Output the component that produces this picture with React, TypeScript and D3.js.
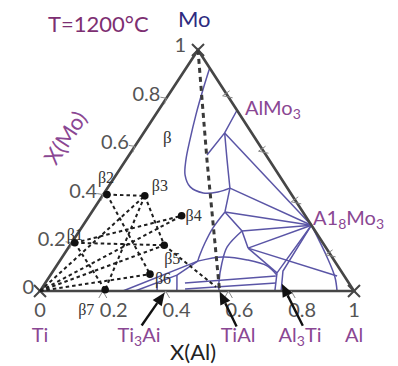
import React from 'react';
import * as d3 from 'd3';

type Comp = [number, number]; // [X(Al), X(Mo)]

// axis ticks / labels
const AXIS_TICKS = [0.2, 0.4, 0.6, 0.8];
const AXIS_LABELS = [0, 0.2, 0.4, 0.6, 0.8, 1];
const RIGHT_EDGE_TICKS = [0.81, 0.58, 0.37, 0.15]; // X(Mo) of the small marks on the Mo-Al side

// phase nodes
const AL_MO3: Comp = [0.25, 0.75];
const AL8_MO3: Comp = [0.727, 0.273];
const nA: Comp = [0.258, 0.656];
const nB: Comp = [0.248, 0.564];
const nC: Comp = [0.39, 0.427];
const nD: Comp = [0.424, 0.328];
const nE: Comp = [0.518, 0.249];
const nF: Comp = [0.573, 0.178];
const nG: Comp = [0.44, 0.124];
const nH: Comp = [0.403, 0.066];

// curved phase boundaries
const betaBoundary: Comp[] = [
  [0.075, 0.925], [0.099, 0.834], [0.129, 0.73], [0.162, 0.627], [0.191, 0.544],
  [0.22, 0.481], [0.261, 0.432], [0.315, 0.407], [0.36, 0.411], nC,
];
const curveAC: Comp[] = [nA, [0.322, 0.544], nC];
const curveDG: Comp[] = [nD, [0.419, 0.261], [0.425, 0.199], [0.434, 0.149], nG];
const curveE: Comp[] = [nE, [0.504, 0.183], [0.521, 0.116], [0.553, 0.033], [0.57, 0]];
const arcG: Comp[] = [nG, [0.512, 0.141], [0.595, 0.129], [0.671, 0.104], [0.721, 0.066]];
const alSide: Comp[] = [AL8_MO3, [0.843, 0.141], [0.91, 0.058], [0.946, 0]];
const curvedLines = [betaBoundary, curveAC, curveDG, curveE, arcG, alSide];

// straight tie lines / boundaries
const straightLines: Comp[][] = [
  [AL_MO3, nA, nB],
  [nA, AL8_MO3],
  [nC, AL8_MO3],
  [nC, nD],
  [nD, AL8_MO3],
  [nD, nE, nF],
  [nE, AL8_MO3],
  [nF, AL8_MO3],
  [nF, [0.915, 0.062]],
  [nF, [0.717, 0.075]],
  [AL8_MO3, [0.717, 0.075], [0.748, 0]],
  [AL8_MO3, [0.732, 0.083], [0.768, 0]],
  [nG, [0.264, 0]],
  [nG, nH],
  [nH, [0.303, 0]],
  [nH, [0.436, 0]],
  [[0.354, 0.037], [0.373, 0]],
  [[0.445, 0.033], [0.72, 0.062]],
  [[0.458, 0.008], [0.735, 0.033]],
];

// diffusion couples (beta compositions)
const betaNames = ['β1', 'β2', 'β3', 'β4', 'β5', 'β6', 'β7'];
const betaComps: Comp[] = [
  [0.01, 0.2], [0.012, 0.4], [0.135, 0.395], [0.294, 0.312],
  [0.3, 0.19], [0.315, 0.07], [0.205, 0.005],
];
const betaLabelOffsets: [number, number][] = [
  [-8, -3], [-9, -12], [7, -5], [4, 5], [0, 19], [5, 10], [-27, 25],
];
const TI: Comp = [0, 0];
const [b1, b2, b3, b4, b5, b6, b7] = betaComps;
const dashedPaths: Comp[][] = [
  [b2, b3], [b3, b5], [b2, b6], [b3, b7], [b1, b4], [b1, b7], [b1, b5],
  [TI, b3], [TI, b4], [TI, b5], [TI, b6], [b5, [0.552, 0.017]],
];
const moDashed: Comp[] = [[0, 1], [0.258, 0.544], [0.565, 0.012]];

// arrows: label, tip composition
const arrowLabels = ['Ti₃Ai', 'TiAl', 'Al₃Ti'];
const arrowTips: Comp[] = [[0.4, -0.006], [0.573, -0.002], [0.755, 0.03]];

const W = 398, H = 366;
const TI_X = 40, AL_X = 354, MO_X = 198, BASE_Y = 291, TOP_Y = 50;

const sA = d3.scaleLinear().domain([0, 1]).range([TI_X, AL_X]);
const sM = d3.scaleLinear().domain([0, 1]).range([BASE_Y, TOP_Y]);
const skew = d3.scaleLinear().domain([0, 1]).range([0, MO_X - TI_X]);
const proj = ([a, m]: Comp): [number, number] => [sA(a) + skew(m), sM(m)];

const lineStraight = d3.line<Comp>().x(d => proj(d)[0]).y(d => proj(d)[1]);
const lineSmooth = d3.line<Comp>().x(d => proj(d)[0]).y(d => proj(d)[1]).curve(d3.curveCatmullRom.alpha(0.5));

const FONT = "Lato, 'Open Sans', sans-serif";
const SERIF = "'Liberation Serif', 'DejaVu Serif', serif";
const PHASE = '#5a55a6';
const PURPLE = '#8a4793';
const AXIS = '#464646';

const cross = (p: [number, number], r = 6) =>
  `M${p[0] - r},${p[1] - r}L${p[0] + r},${p[1] + r}M${p[0] - r},${p[1] + r}L${p[0] + r},${p[1] - r}`;

const arrow = (tip: [number, number], dx: number, dy: number) => {
  const len = Math.hypot(dx, dy);
  const ux = -dx / len, uy = -dy / len; // direction tail -> tip
  const hl = 13, hw = 5.5;
  const bx = tip[0] - ux * hl, by = tip[1] - uy * hl;
  const head = `M${tip[0]},${tip[1]}L${bx - uy * hw},${by + ux * hw}L${bx + uy * hw},${by - ux * hw}Z`;
  const shaft = `M${tip[0] + dx},${tip[1] + dy}L${bx},${by}`;
  return { head, shaft };
};
const arrowTails: [number, number][] = [[-23, 33], [17, 35], [21, 42]];
const arrowLabelX = [139, 238, 300];

export default function App() {
  const ti = proj([0, 0]), al = proj([1, 0]), mo = proj([0, 1]);

  return (
    <svg width={W} height={H} style={{ position: 'absolute', left: 0, top: 0, background: '#fff' }}>
      {/* title */}
      <text x={48} y={32} fontFamily={FONT} fontSize={22} fill="#7d2f72">T=1200°C</text>
      <text x={178} y={27} fontFamily={FONT} fontSize={22} fill="#2e2b7f">Mo</text>

      {/* phase boundaries */}
      <g fill="none" stroke={PHASE} strokeWidth={1.5}>
        {curvedLines.map((d, i) => <path key={'c' + i} d={lineSmooth(d) ?? ''} />)}
        {straightLines.map((d, i) => <path key={'s' + i} d={lineStraight(d) ?? ''} />)}
      </g>

      {/* triangle */}
      <path d={`M${ti[0]},${ti[1]}L${mo[0]},${mo[1]}L${al[0]},${al[1]}Z`} fill="none" stroke={AXIS} strokeWidth={2.6} />
      <g stroke={AXIS} strokeWidth={2}>
        <path d={cross(ti)} />
        <path d={cross(al)} />
        <path d={cross(mo)} />
      </g>

      {/* small tick marks */}
      <g fill="none" stroke="#888" strokeWidth={1}>
        {AXIS_TICKS.map(v => {
          const p = proj([v, 0]);
          return <path key={'bt' + v} d={`M${p[0] - 4},${p[1] + 7}L${p[0]},${p[1]}L${p[0] + 4},${p[1] + 7}`} />;
        })}
        {AXIS_TICKS.map(v => {
          const p = proj([0, v]);
          return <path key={'lt' + v} d={`M${p[0] - 6},${p[1] - 1}L${p[0]},${p[1]}L${p[0] - 2},${p[1] + 6}`} />;
        })}
        {RIGHT_EDGE_TICKS.map(v => {
          const p = proj([1 - v, v]);
          return <path key={'rt' + v} d={`M${p[0] + 2},${p[1] - 5}L${p[0] - 5},${p[1]}L${p[0] + 5},${p[1] + 2}`} />;
        })}
      </g>

      {/* Mo-TiAl dashed line */}
      <path d={lineStraight(moDashed) ?? ''} fill="none" stroke="#3a3a3a" strokeWidth={3} strokeDasharray="5 4" />

      {/* diffusion paths */}
      <g fill="none" stroke="#1e1e1e" strokeWidth={2} strokeDasharray="3.5 3">
        {dashedPaths.map((d, i) => <path key={'d' + i} d={lineStraight(d) ?? ''} />)}
      </g>
      {betaComps.map((c, i) => {
        const p = proj(c);
        return (
          <g key={betaNames[i]}>
            <circle cx={p[0]} cy={p[1]} r={3.8} fill="#111" />
            <text x={p[0] + betaLabelOffsets[i][0]} y={p[1] + betaLabelOffsets[i][1]}
              fontFamily={SERIF} fontSize={16} fill="#333">{betaNames[i]}</text>
          </g>
        );
      })}
      <text x={163} y={143} fontFamily={SERIF} fontSize={17} fill="#333">β</text>

      {/* left axis labels */}
      <g fontFamily={FONT} fontSize={20} fill="#555" textAnchor="end">
        {AXIS_LABELS.slice(0, 5).map(v => {
          const p = proj([0, v]);
          return <text key={'ll' + v} x={p[0] - 6} y={p[1] + 3}>{String(v)}</text>;
        })}
        <text x={186} y={52}>1</text>
      </g>
      {/* bottom axis labels */}
      <g fontFamily={FONT} fontSize={20} fill="#555">
        {AXIS_LABELS.map(v => {
          const p = proj([v, 0]);
          const edge = v === 0 || v === 1;
          return (
            <text key={'bl' + v} x={edge ? p[0] : p[0] - 3} y={317} textAnchor={edge ? 'middle' : 'start'}>
              {String(v)}
            </text>
          );
        })}
      </g>

      {/* axis titles */}
      <text transform="translate(72,142) rotate(-56.7)" textAnchor="middle" fontFamily={FONT} fontSize={22} fill={PURPLE}>X(Mo)</text>
      <text x={170} y={360} fontFamily={FONT} fontSize={22} fill="#222">X(Al)</text>

      {/* phase labels */}
      <g fontFamily={FONT} fontSize={20} fill={PURPLE}>
        <text x={245} y={115}>AlMo<tspan fontSize={14} dy={4}>3</tspan></text>
        <text x={313} y={225}>A1<tspan fontSize={14} dy={4}>8</tspan><tspan dy={-4}>Mo</tspan><tspan fontSize={14} dy={4}>3</tspan></text>
        <text x={40} y={342} textAnchor="middle">Ti</text>
        <text x={354} y={342} textAnchor="middle">Al</text>
        <text x={arrowLabelX[0]} y={342} textAnchor="middle">Ti<tspan fontSize={14} dy={4}>3</tspan><tspan dy={-4}>Ai</tspan></text>
        <text x={arrowLabelX[1]} y={342} textAnchor="middle">{arrowLabels[1]}</text>
        <text x={arrowLabelX[2]} y={342} textAnchor="middle">Al<tspan fontSize={14} dy={4}>3</tspan><tspan dy={-4}>Ti</tspan></text>
      </g>

      {/* arrows */}
      {arrowTips.map((c, i) => {
        const a = arrow(proj(c), arrowTails[i][0], arrowTails[i][1]);
        return (
          <g key={'ar' + i}>
            <path d={a.shaft} stroke="#111" strokeWidth={2.4} />
            <path d={a.head} fill="#111" />
          </g>
        );
      })}
    </svg>
  );
}
